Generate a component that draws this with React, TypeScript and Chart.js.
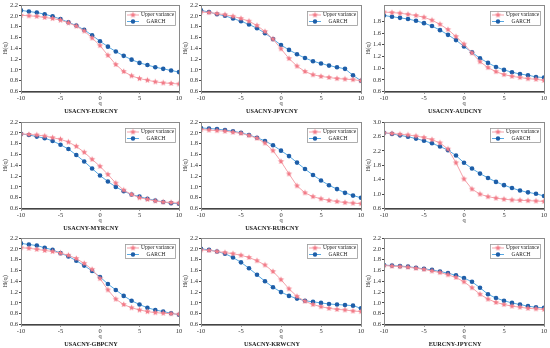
import React, { useEffect, useRef } from "react";
import { Chart, registerables } from "chart.js";
Chart.register(...registerables);

const Q = [-10, -9, -8, -7, -6, -5, -4, -3, -2, -1, 0, 1, 2, 3, 4, 5, 6, 7, 8, 9, 10];
const SERIES_NAMES = ["Upper variance", "GARCH"];
const TITLES = [
  "USACNY-EURCNY", "USACNY-JPYCNY", "USACNY-AUDCNY",
  "USACNY-MYRCNY", "USACNY-RUBCNY", "",
  "USACNY-GBPCNY", "USACNY-KRWCNY", "EURCNY-JPYCNY",
];
const Y_MIN = [0.6, 0.6, 0.6, 0.6, 0.6, 0.6, 0.6, 0.6, 0.6];
const Y_MAX = [2.2, 2.2, 2.08, 2.2, 2.2, 3.0, 2.2, 2.2, 2.2];

const UPPER_EUR = [2.01, 2.0, 1.99, 1.97, 1.95, 1.92, 1.87, 1.81, 1.72, 1.59, 1.45, 1.27, 1.1, 0.97, 0.89, 0.84, 0.81, 0.78, 0.76, 0.75, 0.74];
const GARCH_EUR = [2.1, 2.08, 2.06, 2.03, 1.99, 1.94, 1.88, 1.82, 1.74, 1.64, 1.53, 1.43, 1.34, 1.26, 1.19, 1.13, 1.09, 1.05, 1.02, 0.99, 0.96];
const UPPER_JPY = [2.07, 2.06, 2.04, 2.02, 1.99, 1.95, 1.9, 1.82, 1.71, 1.57, 1.39, 1.21, 1.07, 0.97, 0.91, 0.88, 0.86, 0.84, 0.83, 0.82, 0.8];
const GARCH_JPY = [2.1, 2.07, 2.03, 2.0, 1.95, 1.9, 1.84, 1.77, 1.68, 1.57, 1.46, 1.37, 1.29, 1.22, 1.16, 1.12, 1.08, 1.05, 1.02, 0.9, 0.8];
const UPPER_AUD = [1.96, 1.95, 1.94, 1.92, 1.9, 1.87, 1.82, 1.75, 1.66, 1.54, 1.41, 1.26, 1.11, 1.01, 0.94, 0.89, 0.86, 0.84, 0.82, 0.81, 0.79];
const GARCH_AUD = [1.9, 1.88, 1.86, 1.84, 1.81, 1.77, 1.72, 1.65, 1.57, 1.48, 1.37, 1.27, 1.17, 1.09, 1.02, 0.97, 0.93, 0.9, 0.88, 0.85, 0.84];
const UPPER_MYR = [1.98, 1.97, 1.96, 1.94, 1.91, 1.88, 1.83, 1.75, 1.64, 1.51, 1.38, 1.23, 1.07, 0.94, 0.86, 0.8, 0.77, 0.74, 0.72, 0.71, 0.7];
const GARCH_MYR = [1.98, 1.96, 1.93, 1.9, 1.85, 1.78, 1.7, 1.59, 1.47, 1.34, 1.21, 1.1, 1.0, 0.92, 0.86, 0.82, 0.78, 0.75, 0.72, 0.7, 0.69];
const UPPER_RUB = [2.06, 2.05, 2.04, 2.03, 2.01, 1.99, 1.95, 1.9, 1.81, 1.67, 1.47, 1.24, 1.02, 0.89, 0.82, 0.78, 0.75, 0.73, 0.71, 0.7, 0.69];
const GARCH_RUB = [2.09, 2.08, 2.07, 2.05, 2.03, 2.0, 1.96, 1.91, 1.85, 1.77, 1.67, 1.57, 1.45, 1.33, 1.22, 1.12, 1.03, 0.96, 0.89, 0.84, 0.8];
const UPPER_SIX = [2.7, 2.68, 2.66, 2.64, 2.61, 2.57, 2.51, 2.42, 2.25, 1.87, 1.42, 1.14, 1.0, 0.93, 0.89, 0.86, 0.84, 0.83, 0.82, 0.81, 0.8];
const GARCH_SIX = [2.7, 2.67, 2.63, 2.59, 2.54, 2.48, 2.41, 2.32, 2.22, 2.07, 1.87, 1.71, 1.57, 1.45, 1.34, 1.25, 1.17, 1.1, 1.05, 1.01, 0.95];
const UPPER_GBP = [2.02, 2.01, 1.99, 1.97, 1.95, 1.92, 1.88, 1.82, 1.73, 1.62, 1.45, 1.24, 1.07, 0.97, 0.91, 0.87, 0.84, 0.82, 0.81, 0.8, 0.79];
const GARCH_GBP = [2.1, 2.08, 2.06, 2.02, 1.98, 1.92, 1.86, 1.78, 1.69, 1.59, 1.48, 1.35, 1.24, 1.13, 1.04, 0.97, 0.91, 0.87, 0.84, 0.81, 0.78];
const UPPER_KRW = [1.98, 1.97, 1.95, 1.93, 1.91, 1.88, 1.84, 1.78, 1.7, 1.58, 1.43, 1.26, 1.12, 1.03, 0.97, 0.93, 0.9, 0.88, 0.87, 0.85, 0.84];
const GARCH_KRW = [2.0, 1.98, 1.95, 1.91, 1.84, 1.75, 1.64, 1.52, 1.4, 1.29, 1.2, 1.13, 1.08, 1.04, 1.02, 1.0, 0.98, 0.97, 0.96, 0.95, 0.9];
const UPPER_EJ = [1.69, 1.68, 1.67, 1.66, 1.64, 1.62, 1.59, 1.56, 1.52, 1.47, 1.39, 1.28, 1.16, 1.07, 1.01, 0.97, 0.94, 0.92, 0.9, 0.89, 0.88];
const GARCH_EJ = [1.7, 1.69, 1.68, 1.67, 1.65, 1.63, 1.61, 1.58, 1.55, 1.51, 1.46, 1.39, 1.28, 1.16, 1.09, 1.04, 1.0, 0.97, 0.94, 0.92, 0.91];

const UPPER = [UPPER_EUR, UPPER_JPY, UPPER_AUD, UPPER_MYR, UPPER_RUB, UPPER_SIX, UPPER_GBP, UPPER_KRW, UPPER_EJ];
const GARCH = [GARCH_EUR, GARCH_JPY, GARCH_AUD, GARCH_MYR, GARCH_RUB, GARCH_SIX, GARCH_GBP, GARCH_KRW, GARCH_EJ];

const FONT = '"Liberation Serif", "Times New Roman", serif';
const PINK_LINE = "#f4a3ab";
const PINK_MARK = "#f27b88";
const BLUE_LINE = "#57a8e3";
const BLUE_MARK = "#1d5ea8";

const COL_LEFT = [1, 181, 364];
const COL_W = [183, 185, 185];
const ROW_TOP = [0, 117, 233];
const PANEL_H = 118;

function makeStar(r: number, fill: string) {
  const s = Math.ceil(r * 2) + 2;
  const c = document.createElement("canvas");
  c.width = s;
  c.height = s;
  const ctx = c.getContext("2d")!;
  ctx.beginPath();
  for (let i = 0; i < 10; i++) {
    const ang = -Math.PI / 2 + (i * Math.PI) / 5;
    const rad = i % 2 ? r * 0.45 : r;
    const x = s / 2 + rad * Math.cos(ang);
    const y = s / 2 + rad * Math.sin(ang);
    if (i === 0) ctx.moveTo(x, y);
    else ctx.lineTo(x, y);
  }
  ctx.closePath();
  ctx.fillStyle = fill;
  ctx.fill();
  return c;
}

const framePlugin = {
  id: "frame",
  afterDatasetsDraw(chart: any) {
    const { ctx, chartArea: a } = chart;
    ctx.save();
    ctx.strokeStyle = "#8a8a8a";
    ctx.lineWidth = 1;
    ctx.strokeRect(Math.round(a.left) + 0.5, Math.round(a.top) + 0.5, Math.round(a.right - a.left), Math.round(a.bottom - a.top));
    ctx.restore();
  },
};

const legendPlugin = {
  id: "insetLegend",
  afterDraw(chart: any) {
    const { ctx, chartArea: a } = chart;
    const w = 50;
    const h = 14;
    const x0 = Math.round(a.right - 4 - w);
    const y0 = Math.round(a.top + 6);
    ctx.save();
    ctx.fillStyle = "#fff";
    ctx.fillRect(x0, y0, w, h);
    ctx.strokeStyle = "#9a9a9a";
    ctx.lineWidth = 0.8;
    ctx.strokeRect(x0 + 0.5, y0 + 0.5, w, h);
    chart.data.datasets.forEach((ds: any, i: number) => {
      const y = y0 + 4 + i * 6.5;
      ctx.strokeStyle = ds.borderColor;
      ctx.lineWidth = 1;
      ctx.beginPath();
      ctx.moveTo(x0 + 2, y);
      ctx.lineTo(x0 + 14, y);
      ctx.stroke();
      const cx = x0 + 8;
      if (ds.pointStyle instanceof HTMLCanvasElement) {
        const img = ds.pointStyle as HTMLCanvasElement;
        ctx.drawImage(img, cx - img.width / 2, y - img.height / 2);
      } else {
        ctx.fillStyle = ds.pointBackgroundColor;
        ctx.beginPath();
        ctx.arc(cx, y, 2.2, 0, Math.PI * 2);
        ctx.fill();
      }
      ctx.fillStyle = "#222";
      ctx.font = `5.4px ${FONT}`;
      ctx.textBaseline = "middle";
      ctx.textAlign = i === 0 ? "left" : "center";
      ctx.fillText(ds.label, i === 0 ? x0 + 16 : x0 + 31, y);
    });
    ctx.restore();
  },
};

function Panel({ idx }: { idx: number }) {
  const ref = useRef<HTMLCanvasElement | null>(null);
  const col = idx % 3;
  const row = Math.floor(idx / 3);
  const width = COL_W[col];
  useEffect(() => {
    if (!ref.current) return;
    const star = makeStar(3.2, PINK_MARK);
    const title = TITLES[idx];
    const chart = new Chart(ref.current, {
      type: "line",
      data: {
        datasets: [
          {
            label: SERIES_NAMES[0],
            data: Q.map((q, i) => ({ x: q, y: UPPER[idx][i] })),
            borderColor: PINK_LINE,
            borderWidth: 1,
            pointStyle: star as any,
            pointBackgroundColor: PINK_MARK,
            pointBorderColor: PINK_MARK,
            pointRadius: 3,
          },
          {
            label: SERIES_NAMES[1],
            data: Q.map((q, i) => ({ x: q, y: GARCH[idx][i] })),
            borderColor: BLUE_LINE,
            borderWidth: 1,
            pointStyle: "circle",
            pointBackgroundColor: BLUE_MARK,
            pointBorderColor: BLUE_MARK,
            pointBorderWidth: 0,
            pointRadius: 2.3,
          },
        ],
      },
      options: {
        responsive: false,
        animation: false,
        devicePixelRatio: 1,
        layout: { padding: { top: 4, right: 3, left: 0, bottom: title ? 0 : 10.4 } },
        plugins: {
          legend: { display: false },
          tooltip: { enabled: false },
          title: {
            display: !!title,
            text: title,
            position: "bottom",
            color: "#222",
            font: { family: FONT, size: 6.2, weight: "bold", lineHeight: 1.2 },
            padding: { top: 0, bottom: 3 },
          },
        },
        scales: {
          x: {
            type: "linear",
            min: -10,
            max: 10,
            ticks: { stepSize: 5, color: "#333", font: { family: FONT, size: 6.5 }, padding: 1, maxRotation: 0 },
            grid: { display: true, drawOnChartArea: false, drawTicks: true, tickLength: 2, color: "#444" },
            border: { display: true, color: "#444" },
            title: { display: true, text: "q", color: "#333", font: { family: FONT, size: 6.5 }, padding: 0 },
            afterFit: (s: any) => { s.height = 16; },
          },
          y: {
            min: Y_MIN[idx],
            max: Y_MAX[idx],
            ticks: { stepSize: 0.2, color: "#333", font: { family: FONT, size: 6.5 }, padding: 1, callback: (v: any) => Number(v).toFixed(1) },
            afterBuildTicks: (s: any) => {
              s.ticks = s.ticks.filter((t: any) => Math.abs(t.value * 5 - Math.round(t.value * 5)) < 1e-6);
            },
            grid: { display: true, drawOnChartArea: false, drawTicks: true, tickLength: 2, color: "#444" },
            border: { display: true, color: "#444" },
            title: { display: true, text: "H(q)", color: "#333", font: { family: FONT, size: 6.5 }, padding: 0 },
            afterFit: (s: any) => { s.width = 20; },
          },
        },
      } as any,
      plugins: [framePlugin, legendPlugin],
    });
    return () => chart.destroy();
  }, [idx]);
  return (
    <canvas
      ref={ref}
      width={width}
      height={PANEL_H}
      style={{ position: "absolute", left: COL_LEFT[col], top: ROW_TOP[row], width, height: PANEL_H }}
    />
  );
}

export default function App() {
  return (
    <div style={{ position: "fixed", left: 0, top: 0, width: 550, height: 348, background: "#fff", overflow: "hidden" }}>
      {TITLES.map((_, i) => (
        <Panel key={i} idx={i} />
      ))}
    </div>
  );
}
